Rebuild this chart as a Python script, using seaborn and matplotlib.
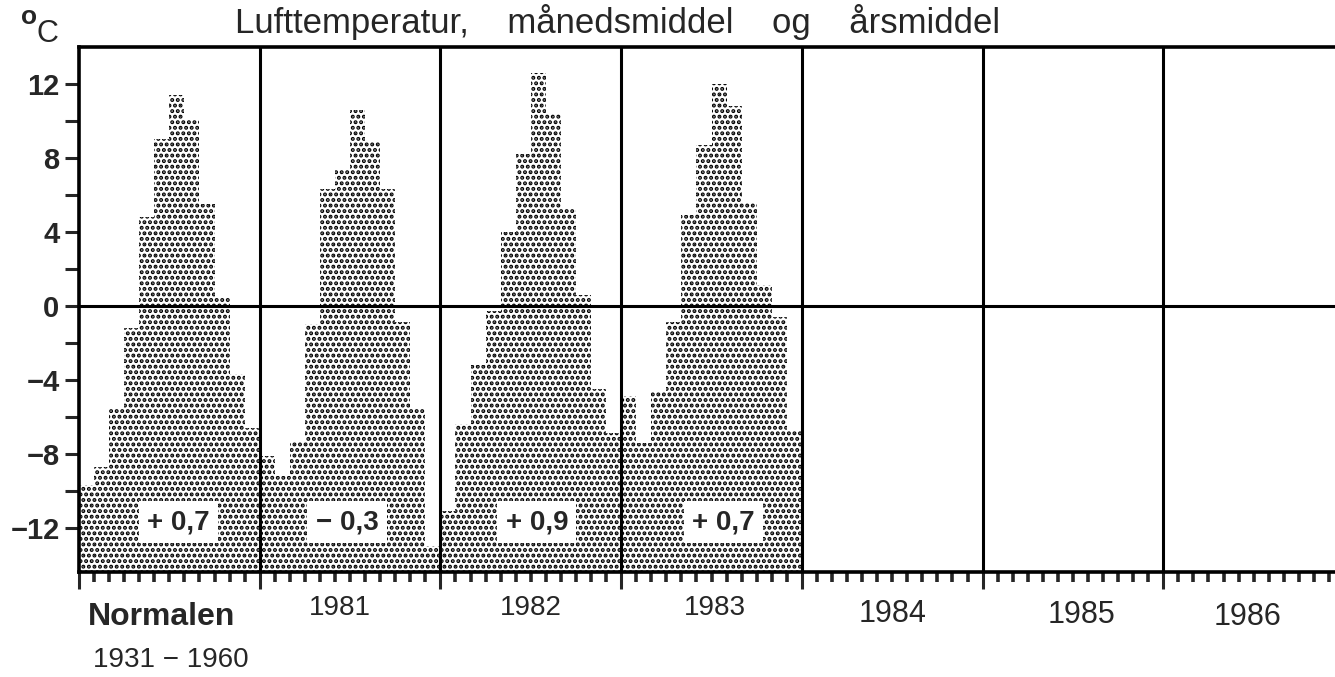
import numpy as np
import pandas as pd
import matplotlib.pyplot as plt
import seaborn as sns

# Data: monthly mean air temperature (deg C)
months = list(range(1, 13))
panels = ["Normalen", "1981", "1982", "1983", "1984", "1985", "1986"]
temp_normal = [-9.7, -8.7, -5.6, -1.2, 4.8, 9.0, 11.4, 10.1, 5.5, 0.4, -3.7, -6.6]
temp_1981 = [-8.1, -9.2, -7.3, -1.0, 6.3, 7.4, 10.6, 8.9, 6.3, -0.9, -5.6, -13.0]
temp_1982 = [-11.1, -6.4, -3.2, -0.3, 4.0, 8.2, 12.6, 10.4, 5.3, 0.6, -4.5, -6.9]
temp_1983 = [-4.9, -7.4, -4.6, -0.9, 4.9, 8.7, 12.0, 10.8, 5.6, 1.1, -0.6, -6.7]
annual_mean = [0.7, -0.3, 0.9, 0.7]

YMIN, YMAX = -14.4, 14.0

rows = []
for p, vals in enumerate([temp_normal, temp_1981, temp_1982, temp_1983]):
    for m, v in zip(months, vals):
        rows.append({"pos": 12 * p + m - 0.5, "temp": v})
df = pd.DataFrame(rows)
df["height"] = df["temp"] - YMIN

# Style
sns.set_style("ticks")
plt.rcParams["font.family"] = ["Liberation Sans", "DejaVu Sans"]
plt.rcParams["hatch.linewidth"] = 2.0
plt.rcParams["hatch.color"] = "black"

fig = plt.figure(figsize=(13.35, 6.77), dpi=100)
ax = fig.add_axes([79 / 1335, 105 / 677, 1265 / 1335, 525 / 677])

# Bars drawn from the bottom of the axis up to each monthly value
sns.barplot(data=df, x="pos", y="height", native_scale=True, width=1,
            bottom=YMIN, color="white", edgecolor="black", linewidth=0,
            hatch="...", errorbar=None, ax=ax)

ax.set(xlabel="", ylabel="", xlim=(0, 84), ylim=(YMIN, YMAX))

# Zero line and panel dividers
ax.axhline(0, color="black", lw=2.2, zorder=3)
for k in range(1, len(panels)):
    ax.axvline(12 * k, color="black", lw=2.2, zorder=3)

for s in ax.spines.values():
    s.set_linewidth(2.6)
    s.set_color("black")

# Ticks
ax.set_xticks(np.arange(0, 85, 12))
ax.set_xticklabels([])
ax.set_xticks(np.arange(0, 85, 1), minor=True)
ax.tick_params(axis="x", which="major", direction="out", length=12, width=2.2)
ax.tick_params(axis="x", which="minor", direction="out", length=7, width=2.6)

yt = np.arange(-12, 13, 4)
ax.set_yticks(yt)
ax.set_yticklabels([f"{v}".replace("-", "\u2212") for v in yt],
                   fontsize=21, fontweight="bold")
ax.set_yticks([-10, -6, -2, 2, 6, 10], minor=True)
ax.tick_params(axis="y", which="both", direction="out", length=10, width=2.2, pad=4)

# Panel labels under the axis
trans = ax.get_xaxis_transform()
label_dx = [5.5, 5.3, 6.0, 6.2, 6.0, 6.6, 5.6]
label_y = [-0.086, -0.068, -0.068, -0.068, -0.080, -0.082, -0.086]
label_fs = [23, 20, 20, 20, 22, 22, 22]
for p, name in enumerate(panels):
    ax.text(12 * p + label_dx[p], label_y[p], name, transform=trans,
            ha="center", va="center", fontsize=label_fs[p],
            fontweight="bold" if p == 0 else "normal")
ax.text(6.1, -0.168, "1931 \u2212 1960", transform=trans, ha="center",
        va="center", fontsize=20)

# Annual mean boxes
box_dx = [6.6, 5.8, 6.4, 6.8]
for p, a in enumerate(annual_mean):
    sign = "+" if a >= 0 else "\u2212"
    txt = f"{sign} {abs(a):.1f}".replace(".", ",")
    ax.text(12 * p + box_dx[p], -11.7, txt, ha="center", va="center",
            fontsize=20, fontweight="bold", zorder=5,
            bbox=dict(boxstyle="square,pad=0.3", fc="white", ec="none"))

# Unit and title
fig.text(21 / 1335, 1 - 17 / 677, "o", fontsize=19, ha="left", va="center",
         fontweight="bold")
fig.text(37 / 1335, 1 - 34 / 677, "C", fontsize=22, ha="left", va="center")
fig.text(618 / 1335, 1 - 33 / 677,
         "Lufttemperatur,    m\u00e5nedsmiddel    og    \u00e5rsmiddel",
         fontsize=25, ha="center", va="baseline")

fig.savefig("out.png", dpi=100)
